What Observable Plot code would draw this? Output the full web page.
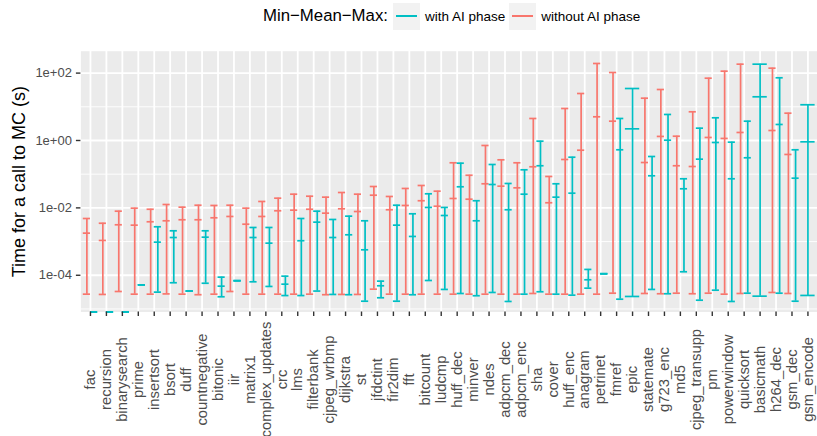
<!DOCTYPE html>
<html>
<head>
<meta charset="utf-8">
<script src="https://cdn.jsdelivr.net/npm/d3@7"></script>
<script src="https://cdn.jsdelivr.net/npm/@observablehq/plot@0.6"></script>
<style>
  body { margin: 0; background: #fff; font-family: "Liberation Sans", Arial, sans-serif; }
  #wrap { width: 817px; height: 436px; position: relative; overflow: hidden; }
  #legend { height: 32px; position: relative; }
  #legend .row { position: absolute; left: 263px; top: 0; height: 32px; display: flex; align-items: center; }
  #legend .title { font-size: 16.8px; color: #000; margin-right: 5px; }
  #legend .key { width: 27px; height: 27px; background: #F2F2F2; position: relative; }
  #legend .key span { position: absolute; left: 3px; right: 3px; top: 12.5px; height: 2.4px; }
  #legend .lab { font-size: 13.5px; color: #000; margin-left: 5px; margin-right: 4px; }
  svg { display: block; }
</style>
</head>
<body>
<div id="wrap">
  <div id="legend"></div>
  <div id="chart"></div>
</div>
<script>
const categories = ["fac","recursion","binarysearch","prime","insertsort","bsort","duff","countnegative","bitonic","iir","matrix1","complex_updates","crc","lms","filterbank","cjpeg_wrbmp","dijkstra","st","jfdctint","fir2dim","fft","bitcount","ludcmp","huff_dec","minver","ndes","adpcm_dec","adpcm_enc","sha","cover","huff_enc","anagram","petrinet","fmref","epic","statemate","g723_enc","md5","cjpeg_transupp","pm","powerwindow","quicksort","basicmath","h264_dec","gsm_dec","gsm_encode"];

const seriesNames = ["with AI phase", "without AI phase"];
const seriesColors = ["#00BFC4", "#F8766D"];

// "with AI phase" (0 = drawn at the lower panel edge, i.e. log(0) = -Inf)
const withMin  = [0,0,0,5.2e-5,3.16e-5,6.0e-5,3.4e-5,5.8e-5,2.3e-5,6.9e-5,6.4e-5,4.66e-5,2.5e-5,2.5e-5,3.4e-5,2.7e-5,2.65e-5,1.7e-5,2.15e-5,1.7e-5,2.64e-5,7.0e-5,3.8e-5,2.88e-5,2.47e-5,3.09e-5,1.67e-5,2.75e-5,3.24e-5,2.75e-5,2.57e-5,4.14e-5,1.11e-4,1.95e-5,2.35e-5,3.8e-5,2.83e-5,1.27e-4,1.82e-5,3.61e-5,1.67e-5,2.94e-5,2.4e-5,2.94e-5,1.7e-5,2.52e-5];
const withMean = [0,0,0,5.2e-5,9.6e-4,1.32e-3,3.4e-5,1.35e-3,4.75e-5,6.9e-5,1.32e-3,8.97e-4,5.44e-5,1.06e-3,3.77e-3,1.32e-3,1.59e-3,5.7e-4,4.88e-5,3.07e-3,1.42e-3,1.03e-2,5.94e-3,4.23e-2,4.14e-3,4.94e-2,8.8e-3,2.55e-2,0.178,2.08e-2,2.73e-2,7.35e-5,1.11e-4,0.53,2.22,8.97e-2,1.02,3.69e-2,0.279,0.873,7.31e-2,0.307,19.8,2.99,7.61e-2,0.914];
const withMax  = [0,0,0,5.2e-5,2.75e-3,2.09e-3,3.4e-5,2.09e-3,8.8e-5,6.9e-5,2.62e-3,2.62e-3,9.4e-5,4.84e-3,7.98e-3,4.53e-3,5.68e-3,4.14e-3,6.7e-5,1.2e-2,6.68e-3,2.62e-2,1.03e-2,0.212,1.63e-2,0.194,5.3e-2,0.135,0.953,5.19e-2,0.319,1.49e-4,1.11e-4,4.5,34.9,0.335,5.92,7.31e-2,2.32,4.72,0.891,3.74,184,72.6,0.53,11.5];

// "without AI phase" (null = not measured)
const withoutMin  = [2.75e-5,2.7e-5,3.3e-5,2.75e-5,2.75e-5,2.8e-5,2.75e-5,2.65e-5,2.75e-5,3.3e-5,2.75e-5,2.75e-5,2.75e-5,2.75e-5,2.75e-5,2.65e-5,2.7e-5,2.7e-5,3.87e-5,2.75e-5,2.75e-5,2.75e-5,2.75e-5,2.75e-5,2.75e-5,2.75e-5,2.75e-5,2.75e-5,2.88e-5,2.75e-5,2.75e-5,2.75e-5,2.75e-5,2.94e-5,null,2.88e-5,2.83e-5,2.94e-5,2.83e-5,2.94e-5,2.75e-5,2.88e-5,null,3.09e-5,2.88e-5,null];
const withoutMean = [1.78e-3,1.08e-3,3.15e-3,3.07e-3,3.87e-3,4.14e-3,4.44e-3,4.44e-3,5.08e-3,5.56e-3,3.28e-3,5.56e-3,8.2e-3,8.55e-3,9.1e-3,6.97e-3,9.4e-3,7.8e-3,2.38e-2,8.8e-3,1.18e-2,1.63e-2,1.12e-2,1.9e-2,1.81e-2,5.19e-2,4.41e-2,3.94e-2,0.166,1.42e-2,0.273,0.515,5.05,3.74,null,0.222,1.32,0.178,0.169,1.23,1.15,1.73,null,1.98,0.385,null];
const withoutMax  = [4.84e-3,3.5e-3,7.98e-3,9.8e-3,9.1e-3,1.26e-2,1.05e-2,1.2e-2,1.18e-2,1.2e-2,9.8e-3,1.55e-2,1.94e-2,2.55e-2,2.22e-2,2.08e-2,2.86e-2,2.55e-2,4.31e-2,2.18e-2,3.77e-2,4.62e-2,3.13e-2,0.218,9.3e-2,0.711,0.267,0.218,4.5,8.55e-2,8.9,24.8,193,104,null,18,32.6,1.34,7.11,70.6,114,184,null,140,6.46,null];

const yTicksMajor = [1e-4, 1e-2, 1, 1e2];
const yTicksMinor = [1e-5, 1e-3, 1e-1, 1e1];
const yDomain = [Math.pow(10, -5.09), Math.pow(10, 2.65)];

// build rows with ggplot-like dodging (without on the left, with on the right)
const rows = [];
categories.forEach((c, i) => {
  const present = [];
  if (withoutMin[i] != null) present.push({series: seriesNames[1], min: withoutMin[i], mean: withoutMean[i], max: withoutMax[i]});
  if (withMin[i] != null) present.push({series: seriesNames[0], min: withMin[i], mean: withMean[i], max: withMax[i]});
  const n = present.length;
  const w = 0.9 / n;
  present.forEach((d, j) => {
    rows.push({...d, cat: c, x: i - 0.45 + w * (j + 0.5), hw: w / 2});
  });
});
const yv = v => (v > 0 ? v : yDomain[0]);

const fmtExp = d => {
  const e = Math.round(Math.log10(d));
  return "1e" + (e < 0 ? "-" : "+") + String(Math.abs(e)).padStart(2, "0");
};

// legend
const lg = document.getElementById("legend");
let html = '<div class="row"><span class="title">Min\u2212Mean\u2212Max:</span>';
seriesNames.forEach((s, k) => {
  html += `<span class="key"><span style="background:${seriesColors[k]}"></span></span><span class="lab">${s}</span>`;
});
html += '</div>';
lg.innerHTML = html;

const lw = 1.7;
const chart = Plot.plot({
  width: 817,
  height: 404,
  marginTop: 18.7,
  marginBottom: 124.5,
  marginLeft: 80.4,
  marginRight: 0,
  style: {fontFamily: '"Liberation Sans", Arial, sans-serif', background: "white"},
  x: {type: "linear", domain: [-0.6, categories.length - 1 + 0.6]},
  y: {type: "log", domain: yDomain},
  color: {domain: seriesNames, range: seriesColors},
  marks: [
    Plot.frame({fill: "#EBEBEB", stroke: null}),
    Plot.gridY(yTicksMinor, {stroke: "white", strokeOpacity: 1, strokeWidth: 0.9}),
    Plot.gridY(yTicksMajor, {stroke: "white", strokeOpacity: 1, strokeWidth: 1.8}),
    Plot.gridX(d3.range(categories.length), {stroke: "white", strokeOpacity: 1, strokeWidth: 1.8}),
    Plot.ruleX(rows, {x: "x", y1: d => yv(d.min), y2: d => yv(d.max), stroke: "series", strokeWidth: lw}),
    Plot.ruleY(rows, {y: d => yv(d.min), x1: d => d.x - d.hw, x2: d => d.x + d.hw, stroke: "series", strokeWidth: lw}),
    Plot.ruleY(rows, {y: d => yv(d.mean), x1: d => d.x - d.hw, x2: d => d.x + d.hw, stroke: "series", strokeWidth: lw}),
    Plot.ruleY(rows, {y: d => yv(d.max), x1: d => d.x - d.hw, x2: d => d.x + d.hw, stroke: "series", strokeWidth: lw}),
    Plot.axisY(yTicksMajor, {tickFormat: fmtExp, tickSize: 4.5, tickPadding: 4.5, stroke: "#333333", strokeWidth: 1.4, fill: "#4D4D4D", fontSize: 13, label: null}),
    Plot.axisX(d3.range(categories.length), {tickFormat: i => categories[i], tickRotate: -90, textAnchor: "middle", tickSize: 4.5, tickPadding: 63, stroke: "#333333", strokeWidth: 1.4, fill: "#4D4D4D", fontSize: 14.8, label: null}),
    Plot.text(["Time for a call to MC (s)"], {frameAnchor: "left", textAnchor: "middle", rotate: -90, dx: -62, fontSize: 18, fill: "black"})
  ]
});
document.getElementById("chart").appendChild(chart);
</script>
</body>
</html>
